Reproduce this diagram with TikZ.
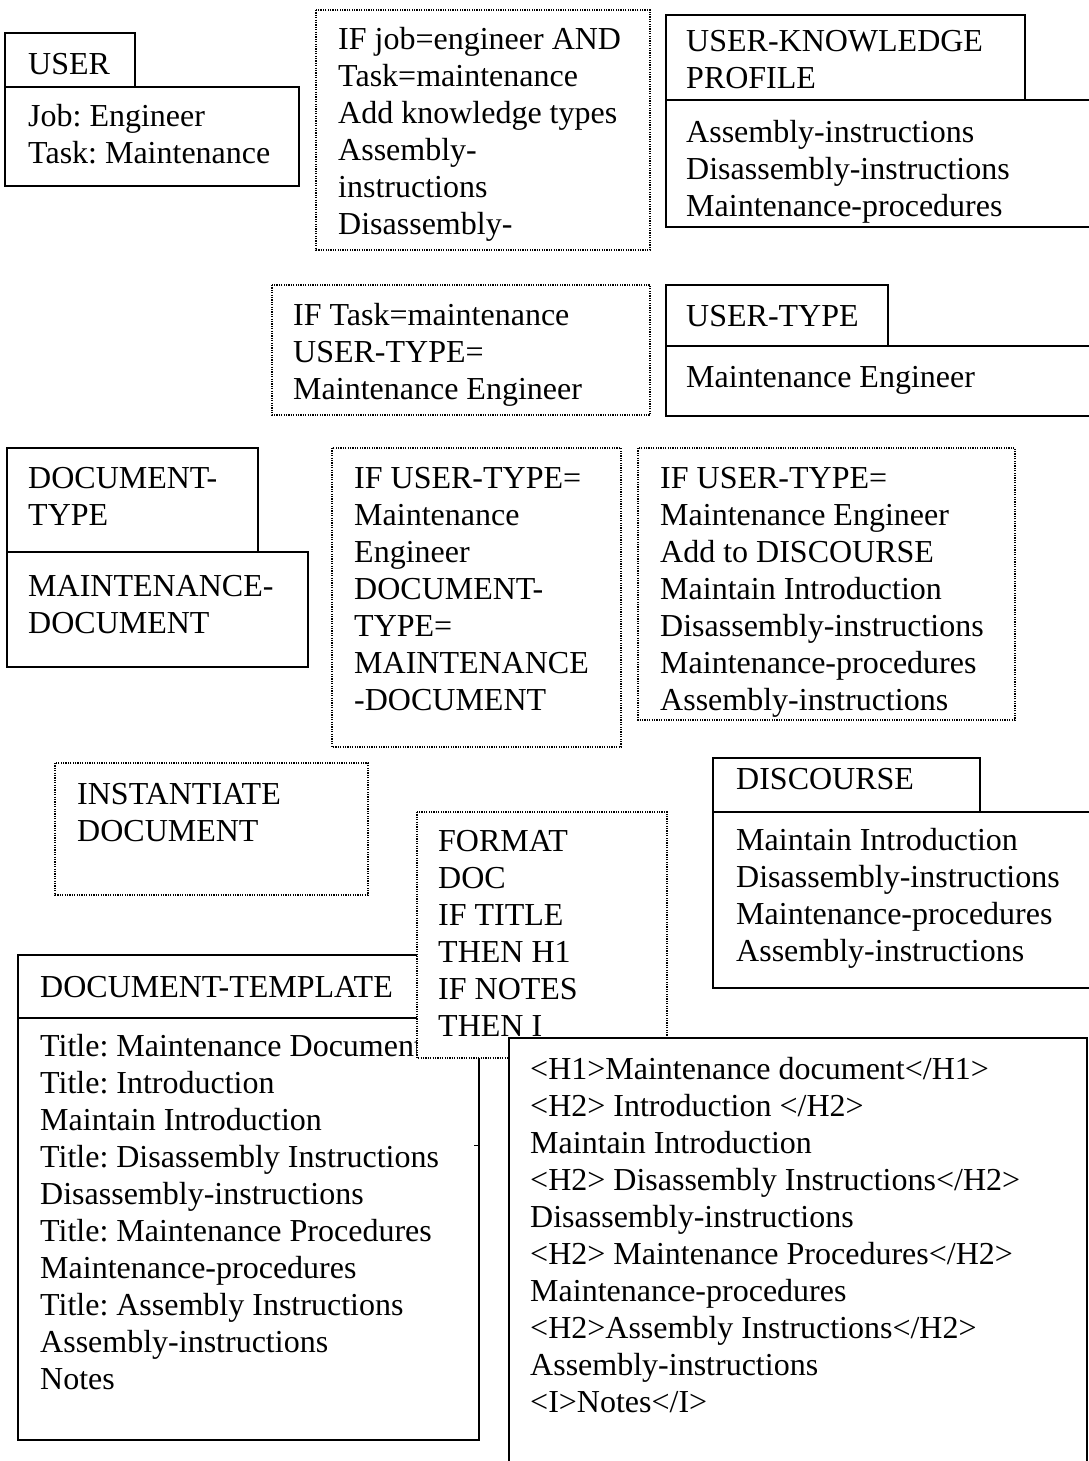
\documentclass[tikz,border=0pt]{standalone}
\usepackage{fontspec}
\setmainfont{Liberation Serif}
\frenchspacing

\begin{document}
\begin{tikzpicture}[x=1pt,y=-1pt,
    frame/.style={draw,line width=1.8pt,fill=white},
    rulebox/.style={draw,line width=1.2pt,dash pattern=on 1.2pt off 1.2pt,fill=white},
    txt/.style={anchor=north west,inner sep=0pt,align=left,font=\fontsize{32}{37}\selectfont}]
    \useasboundingbox (0,0) rectangle (1089,1461);
    \draw[frame] (5,33) rectangle (135,87);
    \draw[frame] (5,87) rectangle (299,186);
    \node[txt] (user) at (28,48) {\strut USER};
    \node[txt] (userbody) at (28,100) {\strut Job: Engineer\\Task: Maintenance};
    \draw[rulebox] (316,10) rectangle (650,250);
    \node[txt] (rulejob) at (338,23) {\strut IF job=engineer AND\\Task=maintenance\\Add knowledge types\\Assembly-\\instructions\\Disassembly-};
    \draw[frame] (666,15) rectangle (1025,100);
    \draw[frame] (666,100) rectangle (1100,227);
    \node[txt] (ukp) at (686,25) {\strut USER-KNOWLEDGE\\PROFILE};
    \node[txt] (ukpbody) at (686,116) {\strut Assembly-instructions\\Disassembly-instructions\\Maintenance-procedures};
    \draw[rulebox] (272,285) rectangle (650,415);
    \node[txt] (ruletask) at (293,299) {\strut IF Task=maintenance\\USER-TYPE=\\Maintenance Engineer};
    \draw[frame] (666,285) rectangle (888,346);
    \draw[frame] (666,346) rectangle (1100,416);
    \node[txt] (usertype) at (686,300) {\strut USER-TYPE};
    \node[txt] (usertypebody) at (686,361) {\strut Maintenance Engineer};
    \draw[frame] (7,448) rectangle (258,552);
    \draw[frame] (7,552) rectangle (308,667);
    \node[txt] (doctype) at (28,462) {\strut DOCUMENT-\\TYPE};
    \node[txt] (doctypebody) at (28,570) {\strut MAINTENANCE-\\DOCUMENT};
    \draw[rulebox] (332,448) rectangle (621,747);
    \node[txt] (ruledoc) at (354,462) {\strut IF USER-TYPE=\\Maintenance\\Engineer\\DOCUMENT-\\TYPE=\\MAINTENANCE\\-DOCUMENT};
    \draw[rulebox] (638,448) rectangle (1015,720);
    \node[txt] (ruledisc) at (660,462) {\strut IF USER-TYPE=\\Maintenance Engineer\\Add to DISCOURSE\\Maintain Introduction\\Disassembly-instructions\\Maintenance-procedures\\Assembly-instructions};
    \draw[rulebox] (55,763) rectangle (368,895);
    \node[txt] (inst) at (77,778) {\strut INSTANTIATE\\DOCUMENT};
    \draw[frame] (713,758) rectangle (980,812);
    \draw[frame] (713,812) rectangle (1100,988);
    \node[txt] (disc) at (736,763) {\strut DISCOURSE};
    \node[txt] (discbody) at (736,824) {\strut Maintain Introduction\\Disassembly-instructions\\Maintenance-procedures\\Assembly-instructions};
    \draw[frame] (18,955) rectangle (430,1018);
    \draw[frame] (18,1018) rectangle (479,1440);
    \draw[line width=1pt] (474,1145) -- (479,1145);
    \node[txt] (tmpl) at (40,971) {\strut DOCUMENT-TEMPLATE};
    \node[txt] (tmplbody) at (40,1030) {\strut Title: Maintenance Document\\Title: Introduction\\Maintain Introduction\\Title: Disassembly Instructions\\Disassembly-instructions\\Title: Maintenance Procedures\\Maintenance-procedures\\Title: Assembly Instructions\\Assembly-instructions\\Notes};
    \draw[rulebox] (417,812) rectangle (667,1058);
    \node[txt] (format) at (438,825) {\strut FORMAT\\DOC\\IF TITLE\\THEN H1\\IF NOTES\\THEN I};
    \draw[frame] (509,1038) rectangle (1087,1480);
    \node[txt] (html) at (530,1053) {\strut <H1>Maintenance document</H1>\\<H2> Introduction </H2>\\Maintain Introduction\\<H2> Disassembly Instructions</H2>\\Disassembly-instructions\\<H2> Maintenance Procedures</H2>\\Maintenance-procedures\\<H2>Assembly Instructions</H2>\\Assembly-instructions\\<I>Notes</I>};
\end{tikzpicture}
\end{document}
